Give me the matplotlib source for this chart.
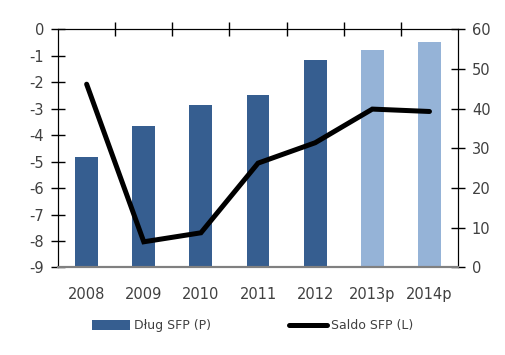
import numpy as np
import matplotlib
matplotlib.use('Agg')
import matplotlib.pyplot as plt
from matplotlib.patches import Patch
from matplotlib.lines import Line2D

plt.rcParams['font.family'] = ['DejaVu Sans']
plt.rcParams['axes.unicode_minus'] = False

# data
years = ['2008', '2009', '2010', '2011', '2012', '2013p', '2014p']
dlug = [27.9, 35.6, 40.9, 43.4, 52.2, 54.7, 56.7]       # right axis, bars
saldo = [-2.08, -8.03, -7.69, -5.06, -4.29, -3.02, -3.11]  # left axis, line
forecast = [False, False, False, False, False, True, True]

dark = '#365E90'
light = '#95B3D7'
txt = '#404040'

fig = plt.figure(figsize=(5.05, 3.55), dpi=100)
ax = fig.add_axes([0.115, 0.2465, 0.792, 0.6715])
x = np.arange(len(years))
cols = [light if f else dark for f in forecast]
ax.bar(x, dlug, width=0.4, color=cols, zorder=2)
ax.set_ylim(0, 60)
ax.set_xlim(-0.5, len(years) - 0.5)

# x axis: labels bottom, boundary ticks on the top spine
ax.set_xticks(x)
ax.set_xticklabels(years)
ax.tick_params(axis='x', which='major', length=0, labelsize=10.5, labelcolor=txt, pad=14)
ax.set_xticks(x[:-1] + 0.5, minor=True)
ax.tick_params(axis='x', which='minor', top=True, bottom=False, direction='inout',
               length=10, width=1, colors='black')

ax2 = ax.twinx()
ax2.plot(x, saldo, color='black', lw=3.6, solid_capstyle='round', solid_joinstyle='miter', zorder=3)
ax2.set_ylim(-9, 0)

# bars -> right scale, line -> left scale
ax.yaxis.tick_right()
ax.yaxis.set_label_position('right')
ax2.yaxis.tick_left()
ax2.yaxis.set_label_position('left')
ax.set_yticks(np.arange(0, 61, 10))
ax2.set_yticks(np.arange(-9, 1, 1))
for a in (ax, ax2):
    a.tick_params(axis='y', direction='inout', length=10, width=1, colors='black',
                  labelcolor=txt, labelsize=10.5, pad=5)
    a.spines['top'].set_color('black')
    a.spines['left'].set_color('black')
    a.spines['right'].set_color('black')
    a.spines['bottom'].set_color('#808080')
    a.spines['bottom'].set_linewidth(1.5)

handles = [Patch(facecolor=dark, edgecolor='none'),
           Line2D([0], [0], color='black', lw=3.6, solid_capstyle='round')]
fig.legend(handles, ['Dług SFP (P)', 'Saldo SFP (L)'], loc='center',
           bbox_to_anchor=(0.5, 0.082), ncol=2, frameon=False, fontsize=9,
           handlelength=3.1, handleheight=0.75, handletextpad=0.3, columnspacing=6.2,
           labelcolor=txt)

fig.savefig('out.png', dpi=100)
